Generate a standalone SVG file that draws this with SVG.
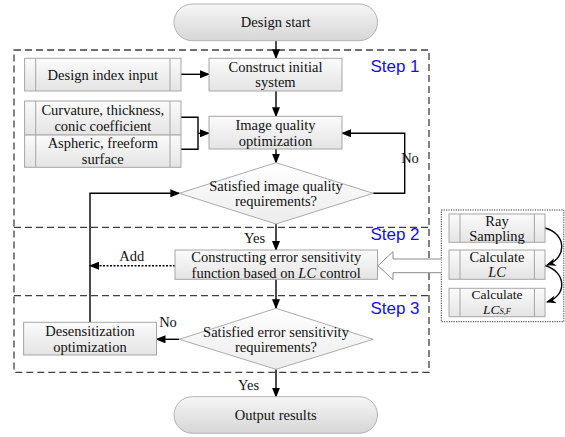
<svg xmlns="http://www.w3.org/2000/svg" width="565" height="437" viewBox="0 0 565 437">
<style>
text{font-family:"Liberation Serif","Times New Roman",serif;font-size:14.5px;fill:#111;text-anchor:middle;dominant-baseline:central}
.step{font-family:"Liberation Sans",Arial,sans-serif;font-size:17px;fill:#1010f0}
.box{fill:url(#gbox);stroke:#a6a6a6;stroke-width:1}
.term{fill:url(#gterm);stroke:#b3b3b3;stroke-width:1}
.dia{fill:url(#gdia);stroke:#ababab;stroke-width:1}
.in{stroke:#a6a6a6;stroke-width:1}
.ln{fill:none;stroke:#000;stroke-width:1.4}
.dash{fill:none;stroke:#404040;stroke-width:1.3;stroke-dasharray:7 4}
.it{font-style:italic}
.sm{font-size:13.5px}
</style>
<defs>
<linearGradient id="gbox" x1="0" y1="0" x2="0" y2="1"><stop offset="0" stop-color="#fbfbfb"/><stop offset="1" stop-color="#e4e4e4"/></linearGradient>
<linearGradient id="gterm" x1="0" y1="0" x2="0" y2="1"><stop offset="0" stop-color="#f6f6f6"/><stop offset="1" stop-color="#d6d6d6"/></linearGradient>
<linearGradient id="gdia" x1="0" y1="0" x2="0" y2="1"><stop offset="0" stop-color="#ffffff"/><stop offset="1" stop-color="#ececec"/></linearGradient>
<marker id="ah" markerWidth="10" markerHeight="8" refX="9" refY="4" orient="auto" markerUnits="userSpaceOnUse"><path d="M0,0 L10,4 L0,8 Z" fill="#000"/></marker>
<marker id="ahc" markerWidth="10" markerHeight="8" refX="9" refY="4" orient="auto" markerUnits="userSpaceOnUse"><path d="M0,0 L10,4 L0,8 L3,4 Z" fill="#000"/></marker>
</defs>

<g id="frames">
<rect x="14" y="50" width="415" height="322.3" class="dash"/>
<line x1="14" y1="227.3" x2="429" y2="227.3" class="dash"/>
<line x1="14" y1="295.7" x2="429" y2="295.7" class="dash"/>
<text class="step" x="395" y="66">Step 1</text>
<text class="step" x="395" y="234">Step 2</text>
<text class="step" x="395" y="308">Step 3</text>
<rect x="441.3" y="210" width="122.5" height="111.7" fill="none" stroke="#333" stroke-width="1" stroke-dasharray="1.2 1.2"/>
</g>

<g id="connectors">
<line x1="276" y1="40.7" x2="276" y2="58.3" class="ln" marker-end="url(#ah)"/>
<line x1="181" y1="74.3" x2="209" y2="74.3" class="ln" marker-end="url(#ah)"/>
<line x1="276" y1="91" x2="276" y2="116.3" class="ln" marker-end="url(#ah)"/>
<polyline points="181,117.3 198,117.3 198,149.3 181,149.3" class="ln"/>
<line x1="198" y1="133.3" x2="209" y2="133.3" class="ln" marker-end="url(#ah)"/>
<line x1="276" y1="149" x2="276" y2="162.7" class="ln" marker-end="url(#ah)"/>
<polyline points="373.2,193.3 404.7,193.3 404.7,133.3 342,133.3" class="ln" marker-end="url(#ah)"/>
<line x1="276" y1="224" x2="276" y2="250" class="ln" marker-end="url(#ah)"/>
<line x1="175" y1="265.7" x2="90" y2="265.7" class="ln" stroke-dasharray="2 1.5" marker-end="url(#ah)"/>
<polyline points="90,322.3 90,193.3 179.3,193.3" class="ln" marker-end="url(#ah)"/>
<line x1="276" y1="279.3" x2="276" y2="308.3" class="ln" marker-end="url(#ah)"/>
<line x1="179.3" y1="339.3" x2="156.5" y2="339.3" class="ln" marker-end="url(#ah)"/>
<line x1="276" y1="369.3" x2="276" y2="396.7" class="ln" marker-end="url(#ah)"/>
<path d="M441.3,259 L393,259 L393,251.7 L378,265.7 L393,279.7 L393,272.7 L441.3,272.7" fill="#fff" stroke="#8c8c8c" stroke-width="1"/>
<path d="M545,228 C567,234 567,258 547,265" class="ln" stroke-width="1.2" marker-end="url(#ahc)"/>
<path d="M545,265.5 C567,272 567,296 547,302" class="ln" stroke-width="1.2" marker-end="url(#ahc)"/>
<text x="410" y="158.3">No</text>
<text x="254.5" y="237.7">Yes</text>
<text x="131.8" y="255.7">Add</text>
<text x="168" y="321.7">No</text>
<text x="248.5" y="385">Yes</text>
</g>

<g id="start">
<rect x="174" y="4" width="203.5" height="36.7" rx="18.3" class="term"/>
<text x="275.7" y="22.3">Design start</text>
</g>
<g id="design-index">
<rect x="24.6" y="58.3" width="156.4" height="32.7" class="box"/>
<line x1="35.7" y1="58.3" x2="35.7" y2="91" class="in"/>
<line x1="170" y1="58.3" x2="170" y2="91" class="in"/>
<text x="102.8" y="74.5">Design index input</text>
</g>
<g id="construct">
<rect x="209" y="58.3" width="133" height="32.7" class="box"/>
<text x="275.5" y="66.7">Construct initial</text>
<text x="275.5" y="82.3">system</text>
</g>
<g id="curvature">
<rect x="24.6" y="101" width="156.4" height="34" class="box"/>
<line x1="35.7" y1="101" x2="35.7" y2="135" class="in"/>
<line x1="170" y1="101" x2="170" y2="135" class="in"/>
<text x="102.8" y="110.2">Curvature, thickness,</text>
<text x="102.8" y="125.8">conic coefficient</text>
</g>
<g id="aspheric">
<rect x="24.6" y="135" width="156.4" height="32.3" class="box"/>
<line x1="35.7" y1="135" x2="35.7" y2="167.3" class="in"/>
<line x1="170" y1="135" x2="170" y2="167.3" class="in"/>
<text x="102.8" y="143.2">Aspheric, freeform</text>
<text x="102.8" y="158.8">surface</text>
</g>
<g id="image-quality">
<rect x="209" y="116.3" width="133" height="32.7" class="box"/>
<text x="275.5" y="124.9">Image quality</text>
<text x="275.5" y="140.5">optimization</text>
</g>
<g id="decision1">
<polygon points="276,162.7 373.2,193.3 276,224 179.3,193.3" class="dia"/>
<text x="276" y="185.5">Satisfied image quality</text>
<text x="276" y="201.1">requirements?</text>
</g>
<g id="constructing">
<rect x="175" y="250" width="202.5" height="29.3" class="box"/>
<text x="276.2" y="256.9">Constructing error sensitivity</text>
<text x="276.2" y="272.5">function based on <tspan class="it">LC</tspan> control</text>
</g>
<g id="decision2">
<polygon points="276,308.3 373.2,339.3 276,369.3 179.3,339.3" class="dia"/>
<text x="276" y="331.5">Satisfied error sensitivity</text>
<text x="276" y="347.1">requirements?</text>
</g>
<g id="desensitization">
<rect x="23.6" y="322.3" width="132.9" height="32.7" class="box"/>
<text x="90" y="330.9">Desensitization</text>
<text x="90" y="346.5">optimization</text>
</g>
<g id="output">
<rect x="174" y="396.7" width="203.5" height="36.6" rx="18.3" class="term"/>
<text x="275.7" y="415">Output results</text>
</g>
<g id="ray-sampling">
<rect x="449" y="214" width="96" height="28.3" class="box"/>
<line x1="460" y1="214" x2="460" y2="242.3" class="in"/>
<line x1="534.4" y1="214" x2="534.4" y2="242.3" class="in"/>
<text x="497" y="220.5">Ray</text>
<text x="497" y="236">Sampling</text>
</g>
<g id="calc-lc">
<rect x="449" y="250" width="96" height="29.3" class="box"/>
<line x1="460" y1="250" x2="460" y2="279.3" class="in"/>
<line x1="534.4" y1="250" x2="534.4" y2="279.3" class="in"/>
<text x="497" y="256.7">Calculate</text>
<text x="497" y="272.3" class="it">LC</text>
</g>
<g id="calc-lcsf">
<rect x="449" y="288.3" width="96" height="28.4" class="box"/>
<line x1="460" y1="288.3" x2="460" y2="316.7" class="in"/>
<line x1="534.4" y1="288.3" x2="534.4" y2="316.7" class="in"/>
<text x="497" y="294.5" class="sm">Calculate</text>
<text x="497" y="309.5" class="it sm">LC<tspan font-size="8.5" dy="1.5">S,F</tspan></text>
</g>
</svg>
